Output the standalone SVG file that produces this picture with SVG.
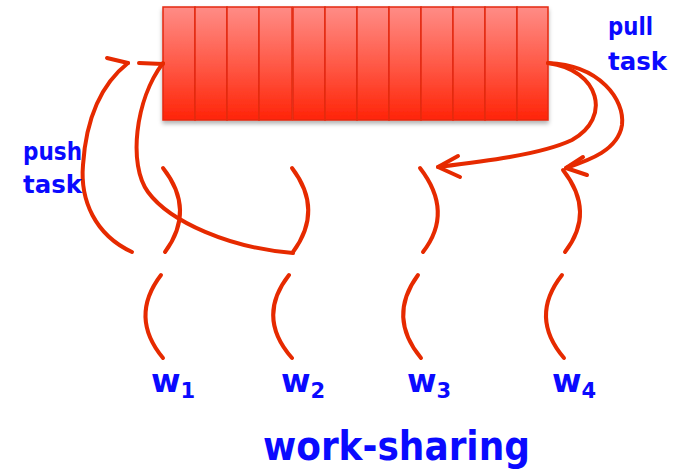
<svg xmlns="http://www.w3.org/2000/svg" width="683" height="469" viewBox="0 0 683 469">
  <defs>
    <linearGradient id="cellFill" x1="0" y1="0" x2="0" y2="1">
      <stop offset="0" stop-color="#ff8c86"/>
      <stop offset="0.5" stop-color="#ff5a48"/>
      <stop offset="1" stop-color="#ff2408"/>
    </linearGradient>
    <filter id="shadow" x="-5%" y="-5%" width="110%" height="125%">
      <feDropShadow dx="0" dy="3" stdDeviation="2" flood-color="#000" flood-opacity="0.3"/>
    </filter>
  </defs>
  <style>
    .cell { fill: url(#cellFill); stroke: #e42a10; stroke-width: 1.5; }
    .wire { fill: none; stroke: #e62a00; stroke-width: 4; stroke-linecap: round; stroke-linejoin: round; }
    .lbl { font-family: "DejaVu Sans", "Liberation Sans", sans-serif; font-weight: bold; fill: #0a0aff; }
    .wlbl { font-size: 32px; }
    .sub { font-size: 21px; }
  </style>

  <rect width="683" height="469" fill="#ffffff"/>

  <!-- task queue: 4 cells + 8 cells -->
  <g id="queue" filter="url(#shadow)">
    <rect class="cell" x="163" y="7" width="32" height="113"/>
    <rect class="cell" x="195" y="7" width="32" height="113"/>
    <rect class="cell" x="227" y="7" width="32" height="113"/>
    <rect class="cell" x="259" y="7" width="33" height="113"/>
    <rect class="cell" x="293" y="7" width="32" height="113"/>
    <rect class="cell" x="325" y="7" width="32" height="113"/>
    <rect class="cell" x="357" y="7" width="32" height="113"/>
    <rect class="cell" x="389" y="7" width="32" height="113"/>
    <rect class="cell" x="421" y="7" width="32" height="113"/>
    <rect class="cell" x="453" y="7" width="32" height="113"/>
    <rect class="cell" x="485" y="7" width="32" height="113"/>
    <rect class="cell" x="517" y="7" width="31" height="113"/>
  </g>

  <!-- workers -->
  <g id="w1">
    <path class="wire" d="M163,168 Q196,210 165,252"/>
    <path class="wire" d="M161,275 Q129,317 163,358"/>
    <text class="lbl wlbl" x="151" y="392">w<tspan class="sub" dx="0" dy="6">1</tspan></text>
  </g>
  <g id="w2">
    <path class="wire" d="M292,168 Q324,210 293,252"/>
    <path class="wire" d="M289,275 Q256,317 292,358"/>
    <text class="lbl wlbl" x="281" y="392">w<tspan class="sub" dy="6">2</tspan></text>
  </g>
  <g id="w3">
    <path class="wire" d="M420,168 Q454,212 423,252"/>
    <path class="wire" d="M418,275 Q387,317 421,358"/>
    <text class="lbl wlbl" x="407" y="392">w<tspan class="sub" dy="6">3</tspan></text>
  </g>
  <g id="w4">
    <path class="wire" d="M563,170 Q596,212 565,252"/>
    <path class="wire" d="M562,275 Q529,317 564,358"/>
    <text class="lbl wlbl" x="552" y="392">w<tspan class="sub" dy="6">4</tspan></text>
  </g>

  <!-- push / pull arrows -->
  <g id="connectors">
    <path class="wire" d="M132,252 C95,235 80,200 83,165 C86,120 100,85 128,63"/>
    <path class="wire" d="M107,58 L128,63"/>
    <path class="wire" d="M293,253 C230,248 170,222 148,192 C128,165 135,100 163,63"/>
    <path class="wire" d="M139,63 L163,64"/>
    <path class="wire" d="M548,63 C600,70 612,118 572,140 C540,155 480,162 438,167"/>
    <path class="wire" d="M458,156 L438,167 L460,177"/>
    <path class="wire" d="M548,63 C600,65 625,100 622,125 C618,150 590,160 566,168"/>
    <path class="wire" d="M583,157 L566,168 L587,175"/>
  </g>

  <!-- captions -->
  <g id="push-label">
    <text class="lbl" x="23" y="160" font-size="25" textLength="59" lengthAdjust="spacingAndGlyphs">push</text>
    <text class="lbl" x="23" y="193" font-size="25" textLength="59" lengthAdjust="spacingAndGlyphs">task</text>
  </g>
  <g id="pull-label">
    <text class="lbl" x="608" y="35" font-size="25" textLength="45" lengthAdjust="spacingAndGlyphs">pull</text>
    <text class="lbl" x="608" y="70" font-size="25" textLength="59" lengthAdjust="spacingAndGlyphs">task</text>
  </g>
  <g id="title">
    <text class="lbl" x="263" y="460" font-size="40" textLength="267" lengthAdjust="spacingAndGlyphs">work-sharing</text>
  </g>
</svg>
